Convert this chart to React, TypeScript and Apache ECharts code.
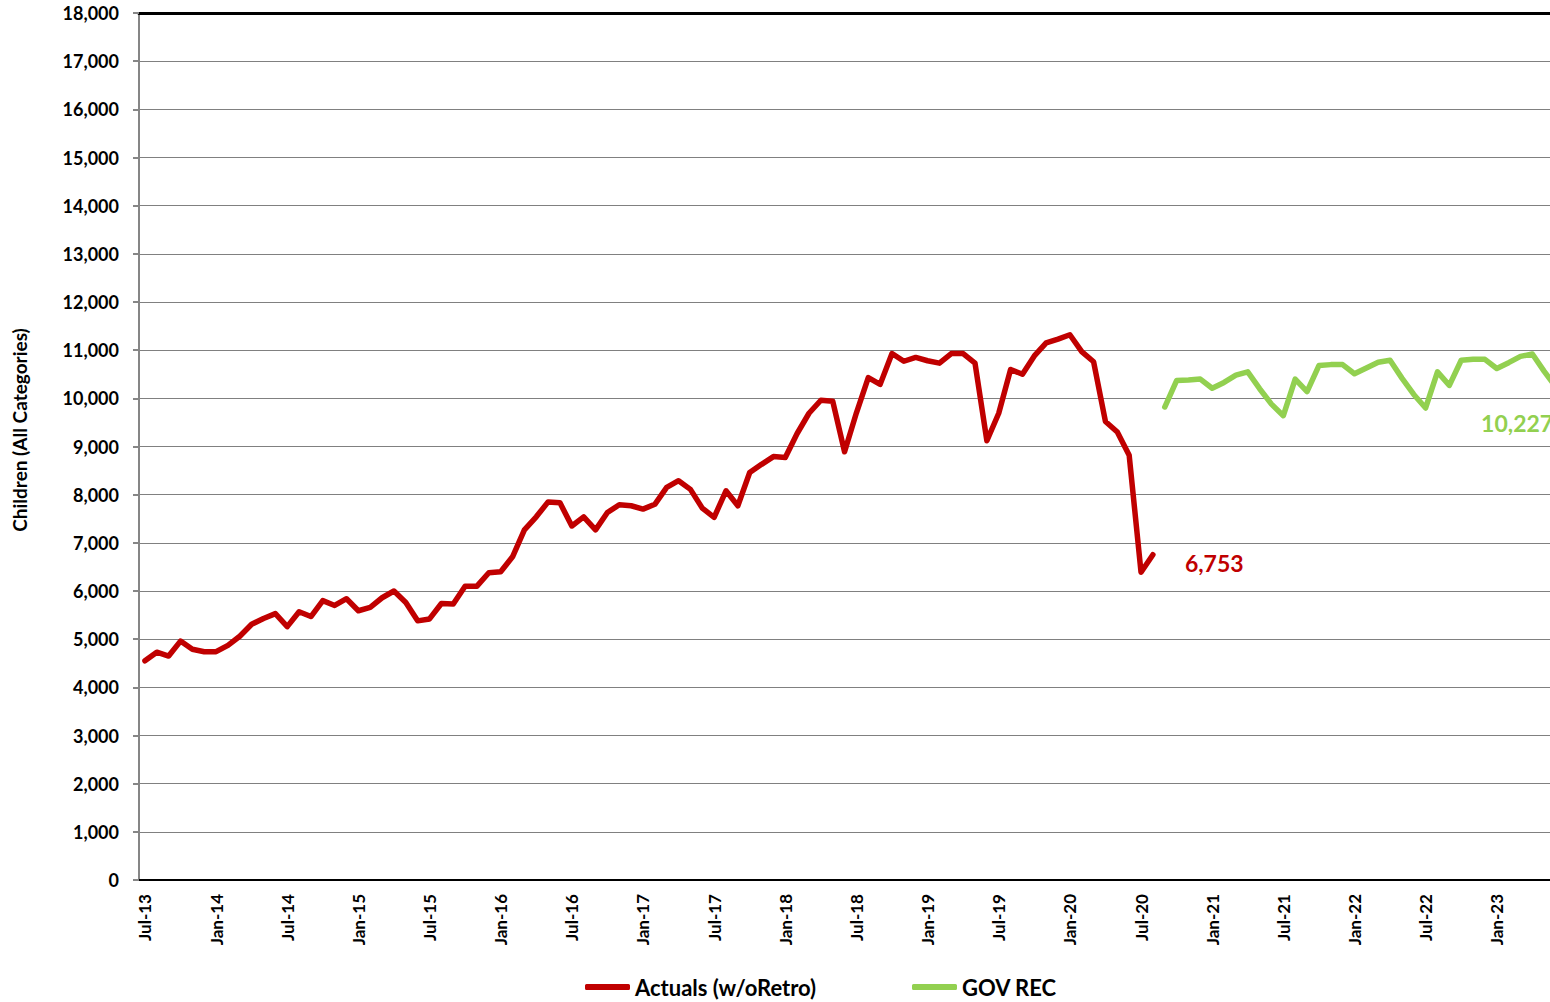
import React, { useEffect, useRef } from "react";
import * as echarts from "echarts";

const MONTHS = ["Jan", "Feb", "Mar", "Apr", "May", "Jun", "Jul", "Aug", "Sep", "Oct", "Nov", "Dec"];
// Jul-13 .. Jun-23 (monthly)
const categories: string[] = [];
for (let k = 0; k < 120; k++) {
  const m = (6 + k) % 12;
  const y = 13 + Math.floor((6 + k) / 12);
  categories.push(`${MONTHS[m]}-${y}`);
}

const actuals: number[] = [
  4550, 4730, 4650, 4960, 4790, 4740, 4740, 4870, 5060, 5310, 5430, 5530,
  5260, 5570, 5470, 5800, 5700, 5840, 5590, 5660, 5860, 6000, 5760, 5380,
  5420, 5740, 5730, 6100, 6100, 6380, 6400, 6710, 7270, 7540, 7850, 7830,
  7350, 7540, 7270, 7630, 7790, 7770, 7700, 7800, 8150, 8290, 8110, 7720,
  7530, 8080, 7770, 8460, 8630, 8790, 8770, 9270, 9690, 9960, 9940, 8890,
  9700, 10430, 10290, 10930, 10770, 10850, 10780, 10730, 10930, 10930, 10730, 9120,
  9690, 10600, 10500, 10880, 11150, 11230, 11320, 10970, 10760, 9520, 9300, 8820,
  6390, 6753,
];

const govRecStartIndex = 86;
const govRec: number[] = [
  9820, 10370, 10380, 10400, 10210, 10330, 10480, 10550, 10200, 9880, 9640, 10400,
  10140, 10680, 10700, 10700, 10510, 10630, 10750, 10790, 10420, 10080, 9800, 10550,
  10270, 10790, 10810, 10810, 10620, 10740, 10870, 10920, 10560, 10227,
];

const yTicks = { min: 0, max: 18000, interval: 1000 };

const FONT = "Lato";
const RED = "#C00000";
const GREEN = "#92D050";

export default function App() {
  const ref = useRef<HTMLDivElement>(null);

  useEffect(() => {
    if (!ref.current) return;
    const chart = echarts.init(ref.current, undefined, { renderer: "svg" });
    const govData: (number | null)[] = [];
    for (let i = 0; i < govRecStartIndex; i++) govData.push(null);
    govRec.forEach((v) => govData.push(v));
    const fmt = (v: number) => v.toLocaleString("en-US");

    const legendText = { fontFamily: FONT, fontSize: 22, fontWeight: "bold", color: "#000" };

    chart.setOption({
      animation: false,
      backgroundColor: "#ffffff",
      textStyle: { fontFamily: FONT },
      grid: { left: 139, top: 13, width: 1423, height: 867, containLabel: false },
      legend: [
        {
          data: ["Actuals (w/oRetro)"],
          left: 585,
          top: 976,
          padding: 0,
          icon: "roundRect",
          itemWidth: 45,
          itemHeight: 6,
          textStyle: legendText,
        },
        {
          data: ["GOV REC"],
          left: 912,
          top: 976,
          padding: 0,
          icon: "roundRect",
          itemWidth: 45,
          itemHeight: 6,
          textStyle: legendText,
        },
      ],
      graphic: [
        {
          type: "text",
          x: 19,
          y: 430,
          rotation: Math.PI / 2,
          style: {
            text: "Children (All Categories)",
            fontFamily: FONT,
            fontSize: 19,
            fontWeight: "bold",
            fill: "#000",
            align: "center",
            verticalAlign: "middle",
          },
        },
      ],
      xAxis: [
        {
          type: "category",
          data: categories,
          boundaryGap: true,
          axisLine: { lineStyle: { color: "#000", width: 2 } },
          axisTick: { interval: 2, length: 5, lineStyle: { color: "#868686", width: 2 } },
          axisLabel: {
            interval: 5,
            rotate: 90,
            margin: 14,
            fontFamily: FONT,
            fontSize: 17,
            fontWeight: "bold",
            color: "#000",
          },
          splitLine: { show: false },
        },
        {
          type: "category",
          data: categories,
          position: "top",
          boundaryGap: true,
          axisLine: { lineStyle: { color: "#000", width: 3 } },
          axisTick: { show: false },
          axisLabel: { show: false },
          splitLine: { show: false },
        },
      ],
      yAxis: {
        type: "value",
        min: yTicks.min,
        max: yTicks.max,
        interval: yTicks.interval,
        axisLine: { show: true, lineStyle: { color: "#868686", width: 2 } },
        axisTick: { show: true, length: 6, lineStyle: { color: "#868686", width: 2 } },
        axisLabel: {
          formatter: (v: number) => fmt(v),
          margin: 20,
          fontFamily: FONT,
          fontSize: 18,
          fontWeight: "bold",
          color: "#000",
        },
        splitLine: { lineStyle: { color: "#808080", width: 1 } },
      },
      series: [
        {
          name: "Actuals (w/oRetro)",
          type: "line",
          data: actuals,
          symbol: "none",
          color: RED,
          lineStyle: { color: RED, width: 5.5, cap: "round", join: "round" },
          endLabel: {
            show: true,
            formatter: (p: any) => fmt(p.value),
            color: RED,
            fontFamily: FONT,
            fontSize: 23,
            fontWeight: "bold",
            offset: [24, 8],
          },
        },
        {
          name: "GOV REC",
          type: "line",
          data: govData,
          symbol: "none",
          color: GREEN,
          lineStyle: { color: GREEN, width: 5.5, cap: "round", join: "round" },
          endLabel: {
            show: true,
            formatter: (p: any) => fmt(p.value),
            color: GREEN,
            fontFamily: FONT,
            fontSize: 23,
            fontWeight: "bold",
            offset: [-83, 36],
          },
        },
      ],
    });
    return () => chart.dispose();
  }, []);

  return (
    <div
      style={{
        position: "fixed",
        left: 0,
        top: 0,
        width: 1550,
        height: 1002,
        overflow: "hidden",
        background: "#fff",
      }}
    >
      <div ref={ref} style={{ width: 1620, height: 1002 }} />
    </div>
  );
}
